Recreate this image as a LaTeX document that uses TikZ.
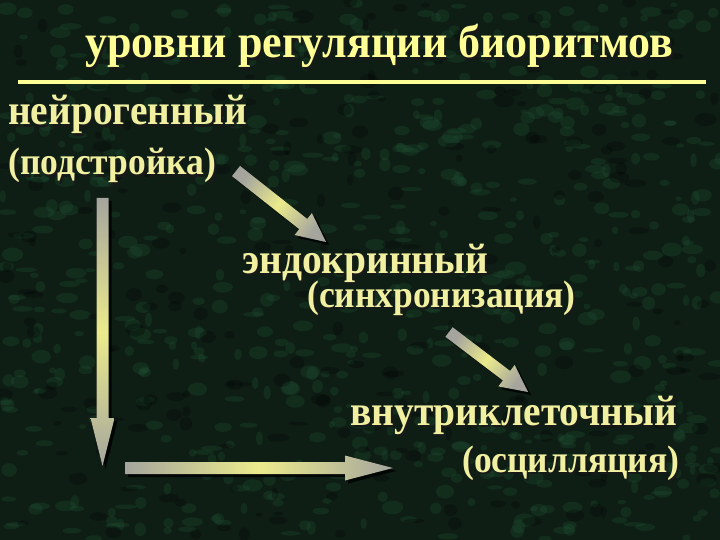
\documentclass[tikz,border=0pt]{standalone}
\usepackage{fontspec}
\setmainfont{Liberation Serif}
\usetikzlibrary{calc}
\definecolor{bgc}{RGB}{14,30,21}
\definecolor{spot}{RGB}{32,80,50}
\definecolor{txt}{RGB}{240,240,160}
\definecolor{ttl}{RGB}{255,255,150}
\definecolor{agray}{RGB}{165,165,158}
\definecolor{ayel}{RGB}{235,235,140}
\newcommand\arrowpath[5]{($(#1)!#3!90:(#2)$) -- ($(#1-b)!#3!90:(#2)$) -- ($(#1-b)!#4!90:(#2)$) -- (#2) -- ($(#1-b)!#4!-90:(#2)$) -- ($(#1-b)!#3!-90:(#2)$) -- ($(#1)!#3!-90:(#2)$) -- cycle}
\newcommand\blockarrow[6]{%
  \coordinate (#1-b) at ($(#2)!#5!(#1)$);
  \begin{scope}[transform canvas={shift={(3pt,-3pt)}}]
    \fill[black,opacity=.8] \arrowpath{#1}{#2}{#3}{#4}{#5};
  \end{scope}
  \fill[left color=agray, right color=agray, middle color=ayel, shading angle=#6] \arrowpath{#1}{#2}{#3}{#4}{#5};
}
\newcommand\shtxt[1]{\makebox[0pt][l]{\hspace{2pt}\raisebox{-2pt}{\color{black!90}#1}}#1}
\newcommand\tall[1]{\scalebox{1}[1.08]{\shtxt{#1}}}
\begin{document}
\begin{tikzpicture}[x=1pt,y=-1pt,
  lbl/.style={anchor=base west, inner sep=0pt, text=txt, font=\bfseries\fontsize{39.5}{41}\selectfont},
  sub/.style={lbl, font=\bfseries\fontsize{35.5}{37}\selectfont},
  ttlstyle/.style={anchor=base west, inner sep=0pt, text=ttl, font=\bfseries\fontsize{44}{46}\selectfont},
]
\fill[bgc] (0,0) rectangle (720,540);
\useasboundingbox (0,0) rectangle (720,540);
\pgfmathsetseed{12}
\foreach \i in {1,...,700}{
  \pgfmathsetmacro\rx{rnd*720}
  \pgfmathsetmacro\ry{rnd*540}
  \pgfmathsetmacro\ra{3+rnd*8}
  \pgfmathsetmacro\rb{2+rnd*5}
  \fill[spot, opacity=.3] (\rx,\ry) ellipse ({\ra pt} and {\rb pt});
}
\foreach \i in {1,...,250}{
  \pgfmathsetmacro\rx{rnd*720}
  \pgfmathsetmacro\ry{rnd*540}
  \pgfmathsetmacro\ra{3+rnd*8}
  \pgfmathsetmacro\rb{2+rnd*5}
  \fill[black, opacity=.25] (\rx,\ry) ellipse ({\ra pt} and {\rb pt});
}
% title and rule
\node[ttlstyle] (title) at (85,58) {\scalebox{1}[1.06]{\shtxt{уровни регуляции биоритмов}}};
\coordinate (l1) at (18,82);
\coordinate (l2) at (706,82);
\draw[ttl, line width=4.5pt] (l1) -- (l2);
% labels
\node[lbl] (neuro) at (8,125) {\tall{нейрогенный}};
\node[sub] (neuroS) at (8,175) {\tall{(подстройка)}};
\node[lbl] (endo) at (242,273) {\tall{эндокринный}};
\node[sub] (endoS) at (307,307) {\tall{(синхронизация)}};
\node[lbl] (intra) at (350,425) {\tall{внутриклеточный}};
\node[sub] (intraS) at (462,472) {\tall{(осцилляция)}};
% arrows
\coordinate (a1t) at (236,171);
\coordinate (a1h) at (326,242);
\coordinate (a2t) at (449,332);
\coordinate (a2h) at (528,392);
\coordinate (vt) at (102.5,198);
\coordinate (vh) at (102.5,466);
\coordinate (ht) at (125,468);
\coordinate (hh) at (393,468);
\blockarrow{a1t}{a1h}{6.5pt}{14pt}{29pt}{52}
\blockarrow{a2t}{a2h}{6pt}{13.5pt}{27pt}{53}
\blockarrow{vt}{vh}{6pt}{12pt}{48pt}{0}
\blockarrow{ht}{hh}{6pt}{12.5pt}{48pt}{90}
\end{tikzpicture}
\end{document}
